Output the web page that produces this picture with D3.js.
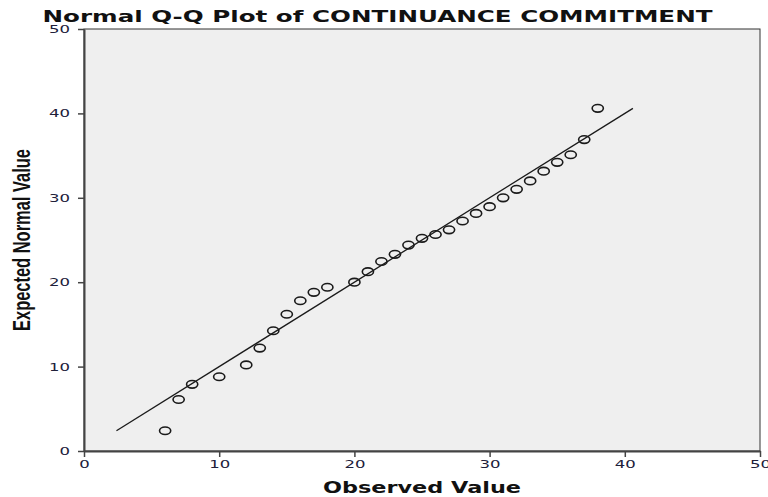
<!DOCTYPE html>
<html lang="en">
    <head>
        <meta charset="utf-8">
        <title>Normal Q-Q Plot</title>
        <script src="https://cdnjs.cloudflare.com/ajax/libs/d3/7.8.5/d3.min.js" charset="utf-8"></script>
        <style>
            body { margin: 0; background: #fff; }
            .tick text { font-family: "DejaVu Sans", Verdana, sans-serif; font-size: 11px; fill: #20203a; }
        </style>
    </head>
    <body>
        <script type="text/javascript">
            var observed = [6, 7, 8, 10, 12, 13, 14, 15, 16, 17, 18, 20, 21, 22, 23, 24, 25, 26, 27, 28, 29, 30, 31, 32, 33, 34, 35, 36, 37, 38];
            var expected = [2.4, 6.1, 7.9, 8.8, 10.2, 12.2, 14.25, 16.2, 17.8, 18.8, 19.4, 20.0, 21.25, 22.45, 23.3, 24.4, 25.2, 25.65, 26.2, 27.25, 28.15, 28.95, 30.0, 31.0, 32.0, 33.15, 34.2, 35.1, 36.9, 40.6];
            var lineEnds = [2.4, 40.6];
            var ticks = [0, 10, 20, 30, 40, 50];

            var margin = { top: 29, right: 8, bottom: 46, left: 84 },
                width  = 768 - margin.left - margin.right,
                height = 497 - margin.top - margin.bottom;

            var svg = d3.select("body")
                .append("svg")
                .attr("width", 768)
                .attr("height", 497);

            var g = svg.append("g")
                .attr("transform", "translate(" + margin.left + "," + margin.top + ")");

            var x = d3.scaleLinear().domain([0, 50]).range([0, width]);
            var y = d3.scaleLinear().domain([0, 50]).range([height, 0]);

            // plot background
            g.append("rect")
                .attr("width", width)
                .attr("height", height)
                .style("fill", "#efefef")
                .style("stroke", "#333")
                .style("stroke-width", 1);

            // x axis
            var xAxis = g.append("g")
                .attr("transform", "translate(0," + height + ")")
                .call(d3.axisBottom(x).tickValues(ticks).tickSize(6).tickSizeOuter(0));
            xAxis.select(".domain").style("stroke", "#444").style("stroke-width", 2);
            xAxis.selectAll(".tick line").style("stroke", "#444").style("stroke-width", 1.5);
            xAxis.selectAll(".tick text")
                .attr("y", 9)
                .attr("transform", "scale(1.5,1)");

            // y axis
            var yAxis = g.append("g")
                .call(d3.axisLeft(y).tickValues(ticks).tickSize(6).tickSizeOuter(0));
            yAxis.select(".domain").style("stroke", "#444").style("stroke-width", 2);
            yAxis.selectAll(".tick line").style("stroke", "#444").style("stroke-width", 1.5);
            yAxis.selectAll(".tick text")
                .attr("x", -9.3)
                .attr("transform", "scale(1.5,1)");

            // reference line
            g.append("line")
                .attr("x1", x(lineEnds[0]))
                .attr("y1", y(lineEnds[0]))
                .attr("x2", x(lineEnds[1]))
                .attr("y2", y(lineEnds[1]))
                .style("stroke", "#1a1a1a")
                .style("stroke-width", 1.3);

            // points
            g.selectAll(".pt")
                .data(observed)
                .enter()
                .append("ellipse")
                .attr("class", "pt")
                .attr("cx", function(d) { return x(d); })
                .attr("cy", function(d, i) { return y(expected[i]); })
                .attr("rx", 5.6)
                .attr("ry", 3.8)
                .style("fill", "none")
                .style("stroke", "#1a1a1a")
                .style("stroke-width", 1.6);

            // title
            svg.append("text")
                .attr("x", 377.5)
                .attr("y", 22)
                .attr("text-anchor", "middle")
                .attr("textLength", 670)
                .attr("lengthAdjust", "spacingAndGlyphs")
                .style("font-family", "DejaVu Sans, Verdana, sans-serif")
                .style("font-weight", "bold")
                .style("font-size", "16.5px")
                .style("fill", "#111")
                .text("Normal Q-Q Plot of CONTINUANCE COMMITMENT");

            // x axis title
            svg.append("text")
                .attr("x", margin.left + width / 2)
                .attr("y", 493)
                .attr("text-anchor", "middle")
                .attr("textLength", 198)
                .attr("lengthAdjust", "spacingAndGlyphs")
                .style("font-family", "DejaVu Sans, Verdana, sans-serif")
                .style("font-weight", "bold")
                .style("font-size", "16.5px")
                .style("fill", "#111")
                .text("Observed Value");

            // y axis title
            svg.append("text")
                .attr("transform", "translate(30," + (margin.top + height / 2) + ") rotate(-90) scale(1,1.5)")
                .attr("text-anchor", "middle")
                .attr("textLength", 182)
                .attr("lengthAdjust", "spacingAndGlyphs")
                .style("font-family", "Liberation Sans, Arial, sans-serif")
                .style("font-weight", "bold")
                .style("font-size", "16.5px")
                .style("fill", "#111")
                .text("Expected Normal Value");
        </script>
    </body>
</html>
